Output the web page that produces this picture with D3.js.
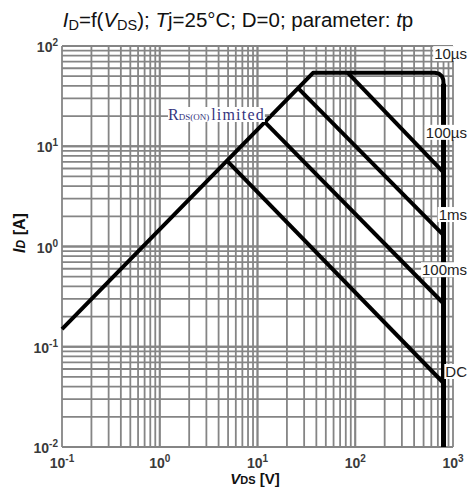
<!DOCTYPE html>
<html><head><meta charset="utf-8">
<script src="https://cdn.jsdelivr.net/npm/d3@7"></script>
<style>body{margin:0;background:#fff}svg{display:block}</style>
</head><body>
<script>
// ---- data ----
const xDomain = [0.1, 1000];
const yDomain = [0.01, 100];
const xTickExps = [-1, 0, 1, 2, 3];
const yTickExps = [-2, -1, 0, 1, 2];
// SOA envelope (RDS(on) limit, current limit, rounded corner, voltage limit)
const envV = [0.1, 37, 650, 720, 770, 795, 800, 800];
const envI = [0.15, 54, 54, 53, 50, 46, 42, 0.01];
const pulseNames = ["100µs", "1ms", "100ms", "DC"];
const pulseV0 = [84, 26, 11.9, 5.0];
const pulseI0 = [54, 38, 17.4, 7.0];
const pulseV1 = [800, 800, 800, 800];
const pulseI1 = [5.5, 1.3, 0.27, 0.0435];
const rightLabels = ["10µs", "100µs", "1ms", "100ms", "DC"];
const rightLabelI = [83, 13.6, 2.06, 0.58, 0.056];

const W = 469, H = 490;
const m = {l: 62, r: 16, t: 46, b: 43};
const svg = d3.select("body").append("svg").attr("width", W).attr("height", H);
const x = d3.scaleLog().domain(xDomain).range([m.l, W - m.r]);
const y = d3.scaleLog().domain(yDomain).range([H - m.b, m.t]);

const gridCol = "#858585";
// grid
const xGrid = [], yGrid = [];
for (let e = -1; e < 3; e++) for (let k = 1; k <= 10; k++) xGrid.push(k * Math.pow(10, e));
for (let e = -2; e < 2; e++) for (let k = 1; k <= 10; k++) yGrid.push(k * Math.pow(10, e));
const g = svg.append("g");
g.selectAll(".vx").data(xGrid).enter().append("line")
  .attr("x1", d => x(d)).attr("x2", d => x(d)).attr("y1", y(yDomain[0])).attr("y2", y(yDomain[1]))
  .attr("stroke", gridCol).attr("stroke-width", 1.8);
g.selectAll(".hy").data(yGrid).enter().append("line")
  .attr("y1", d => y(d)).attr("y2", d => y(d)).attr("x1", x(xDomain[0])).attr("x2", x(xDomain[1]))
  .attr("stroke", gridCol).attr("stroke-width", 1.8);

// tick labels
const tickCol = "#3a3a3a";
const xl = svg.append("g").attr("font-family", "Liberation Sans, Arial, sans-serif").attr("font-weight", "bold").attr("fill", tickCol);
xTickExps.forEach(e => {
  const t = xl.append("text").attr("x", x(Math.pow(10, e))).attr("y", 468).attr("text-anchor", "middle").attr("font-size", 14);
  t.append("tspan").text("10");
  t.append("tspan").attr("dy", -6).attr("font-size", 10).text(e === 0 ? "0" : String(e));
});
yTickExps.forEach(e => {
  const t = xl.append("text").attr("x", 58).attr("y", y(Math.pow(10, e)) + 6).attr("text-anchor", "end").attr("font-size", 14);
  t.append("tspan").text("10");
  t.append("tspan").attr("dy", -6).attr("font-size", 10).text(String(e));
});

// axis titles
const xt = svg.append("text").attr("x", 255).attr("y", 484).attr("text-anchor", "middle")
  .attr("font-family", "Liberation Sans, Arial, sans-serif").attr("font-weight", "bold").attr("font-size", 15).attr("fill", "#111");
xt.append("tspan").attr("font-style", "italic").text("V");
xt.append("tspan").attr("font-size", 11).text("DS");
xt.append("tspan").text(" [V]");
const yt = svg.append("text").attr("transform", "translate(25,233) rotate(-90)").attr("text-anchor", "middle")
  .attr("font-family", "Liberation Sans, Arial, sans-serif").attr("font-weight", "bold").attr("font-size", 16).attr("fill", "#111");
yt.append("tspan").attr("font-style", "italic").text("I");
yt.append("tspan").attr("font-style", "italic").attr("font-size", 12).text("D");
yt.append("tspan").text(" [A]");

// title
const tt = svg.append("text").attr("x", 238).attr("y", 27).attr("text-anchor", "middle")
  .attr("font-family", "Liberation Sans, Arial, sans-serif").attr("font-size", 20.5).attr("fill", "#111");
tt.append("tspan").attr("font-style", "italic").text("I");
tt.append("tspan").attr("font-size", 14.5).attr("dy", 3).text("D");
tt.append("tspan").attr("dy", -3).text("=f(");
tt.append("tspan").attr("font-style", "italic").text("V");
tt.append("tspan").attr("font-size", 14.5).attr("dy", 3).text("DS");
tt.append("tspan").attr("dy", -3).text("); ");
tt.append("tspan").attr("font-style", "italic").text("T");
tt.append("tspan").text("j=25°C; D=0; parameter: ");
tt.append("tspan").attr("font-style", "italic").text("t");
tt.append("tspan").text("p");

// curves
const line = d3.line().x(d => x(d[0])).y(d => y(d[1]));
svg.append("path").datum(envV.map((v, i) => [v, envI[i]])).attr("d", line)
  .attr("fill", "none").attr("stroke", "#000").attr("stroke-width", 4).attr("stroke-linejoin", "round");
pulseNames.forEach((n, i) => {
  svg.append("path").datum([[pulseV0[i], pulseI0[i]], [pulseV1[i], pulseI1[i]]]).attr("d", line)
    .attr("fill", "none").attr("stroke", "#000").attr("stroke-width", 4);
});
// thicker voltage limit
svg.append("line").attr("x1", x(800)).attr("x2", x(800)).attr("y1", y(42)).attr("y2", y(0.01))
  .attr("stroke", "#000").attr("stroke-width", 5);

// right labels
const lab = svg.append("g").attr("font-family", "Liberation Sans, Arial, sans-serif").attr("font-size", 15).attr("fill", "#222");
rightLabels.forEach((s, i) => {
  const t = lab.append("text").attr("x", 467).attr("y", y(rightLabelI[i]) + 5).attr("text-anchor", "end").text(s);
  const bb = t.node().getBBox();
  lab.insert("rect", "text").attr("x", bb.x - 1).attr("y", bb.y + 1).attr("width", bb.width + 2).attr("height", bb.height - 2).attr("fill", "#fff");
});

// RDS(on) limited label
const rl = svg.append("g");
const rt = rl.append("text").attr("x", 168).attr("y", 120).attr("font-family", "Liberation Serif, DejaVu Serif, serif")
  .attr("font-size", 16).attr("fill", "#34347e");
rt.append("tspan").text("R");
rt.append("tspan").attr("font-size", 9).text("DS(ON)");
rt.append("tspan").attr("dx", 2).attr("letter-spacing", 1.2).text("limited");
const rb = rt.node().getBBox();
rl.insert("rect", "text").attr("x", rb.x).attr("y", rb.y + 1).attr("width", rb.width).attr("height", rb.height - 2).attr("fill", "#fff");
rl.append("line").attr("x1", rb.x + rb.width).attr("x2", rb.x + rb.width + 5).attr("y1", 115).attr("y2", 115).attr("stroke", gridCol).attr("stroke-width", 1.5);
</script>
</body></html>
